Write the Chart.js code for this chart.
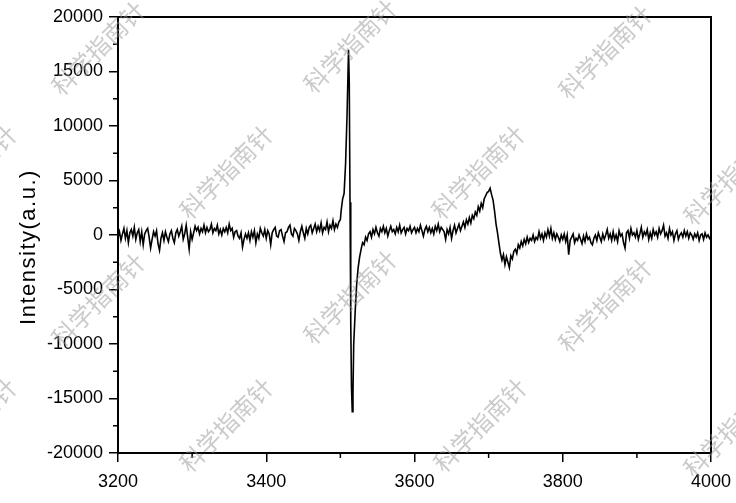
<!DOCTYPE html>
<html lang="en">
<head>
  <meta charset="UTF-8" />
  <title>EPR Spectrum</title>
  <script src="https://cdn.jsdelivr.net/npm/chart.js"></script>
  <style>
    html, body { margin: 0; padding: 0; background: #fff; }
    #wrap { width: 736px; height: 503px; }
  </style>
</head>
<body>
  <div id="wrap"><canvas id="epr" width="736" height="503"></canvas></div>

  <script>
    // magnetic field (G) and intensity (a.u.)
    const field = [
      3200, 3202, 3204, 3206, 3208, 3210, 3212, 3214, 3216, 3218,
      3220, 3222, 3224, 3226, 3228, 3230, 3232, 3234, 3236, 3238,
      3240, 3242, 3244, 3246, 3248, 3250, 3252, 3254, 3256, 3258,
      3260, 3262, 3264, 3266, 3268, 3270, 3272, 3274, 3276, 3278,
      3280, 3282, 3284, 3286, 3288, 3290, 3292, 3294, 3296, 3298,
      3300, 3302, 3304, 3306, 3308, 3310, 3312, 3314, 3316, 3318,
      3320, 3322, 3324, 3326, 3328, 3330, 3332, 3334, 3336, 3338,
      3340, 3342, 3344, 3346, 3348, 3350, 3352, 3354, 3356, 3358,
      3360, 3362, 3364, 3366, 3368, 3370, 3372, 3374, 3376, 3378,
      3380, 3382, 3384, 3386, 3388, 3390, 3392, 3394, 3396, 3398,
      3400, 3402, 3404, 3406, 3408, 3410, 3412, 3414, 3416, 3418,
      3420, 3422, 3424, 3426, 3428, 3430, 3432, 3434, 3436, 3438,
      3440, 3442, 3444, 3446, 3448, 3450, 3452, 3454, 3456, 3458,
      3460, 3462, 3464, 3466, 3468, 3470, 3472, 3474, 3476, 3478,
      3480, 3482, 3484, 3486, 3488, 3490, 3492, 3494, 3496, 3498,
      3500, 3501, 3503, 3505, 3507, 3509, 3511, 3512, 3513, 3514,
      3515, 3516, 3517, 3518, 3520, 3522, 3524, 3526, 3528, 3530,
      3532, 3534, 3536, 3538,
      3540, 3542, 3544, 3546, 3548, 3550, 3552, 3554, 3556, 3558,
      3560, 3562, 3564, 3566, 3568, 3570, 3572, 3574, 3576, 3578,
      3580, 3582, 3584, 3586, 3588, 3590, 3592, 3594, 3596, 3598,
      3600, 3602, 3604, 3606, 3608, 3610, 3612, 3614, 3616, 3618,
      3620, 3622, 3624, 3626, 3628, 3630, 3632, 3634, 3636, 3638,
      3640, 3642, 3644, 3646, 3648, 3650, 3652, 3654, 3656, 3658,
      3660, 3662, 3664, 3666, 3668, 3670, 3672, 3674, 3676, 3678,
      3680, 3682, 3684, 3686, 3688, 3690, 3692, 3694, 3696, 3698,
      3700, 3702, 3704, 3706, 3708, 3710, 3712, 3714, 3716, 3718,
      3720, 3722, 3724, 3726, 3728, 3730, 3732, 3734, 3736, 3738,
      3740, 3742, 3744, 3746, 3748, 3750, 3752, 3754, 3756, 3758,
      3760, 3762, 3764, 3766, 3768, 3770, 3772, 3774, 3776, 3778,
      3780, 3782, 3784, 3786, 3788, 3790, 3792, 3794, 3796, 3798,
      3800, 3802, 3804, 3806, 3808, 3810, 3812, 3814, 3816, 3818,
      3820, 3822, 3824, 3826, 3828, 3830, 3832, 3834, 3836, 3838,
      3840, 3842, 3844, 3846, 3848, 3850, 3852, 3854, 3856, 3858,
      3860, 3862, 3864, 3866, 3868, 3870, 3872, 3874, 3876, 3878,
      3880, 3882, 3884, 3886, 3888, 3890, 3892, 3894, 3896, 3898,
      3900, 3902, 3904, 3906, 3908, 3910, 3912, 3914, 3916, 3918,
      3920, 3922, 3924, 3926, 3928, 3930, 3932, 3934, 3936, 3938,
      3940, 3942, 3944, 3946, 3948, 3950, 3952, 3954, 3956, 3958,
      3960, 3962, 3964, 3966, 3968, 3970, 3972, 3974, 3976, 3978,
      3980, 3982, 3984, 3986, 3988, 3990, 3992, 3994, 3996, 3998,
      4000
    ];
    const intensity = [
      -200, 300, -500, 100, 600, -300, 400, -700, 200, 500,
      -100, 700, -400, 200, 500, -600, 300, -900, 100, 400,
      600, -200, -1200, -400, 300, -100, 400, -800, -1400, -300,
      200, -500, 300, -200, -600, 100, 400, -300, -700, 200,
      500, -100, 300, 800, -400, 100, 900, -200, -1300, 300,
      -400, 200, 800, 400, 700, 100, 600, 300, 900, 200,
      700, 300, 500, 1000, 200, 600, 400, 900, 100, 500,
      0, 600, 300, 700, 200, 1000, 400, 600, -200, 300,
      400, -100, -300, 200, -1100, -400, 100, -300, 200, -500,
      300, -200, 400, -700, 100, -300, 600, 200, -100, 500,
      -300, 400, 100, -900, 200, 500, 700, -100, -200, 400,
      500, -100, -600, 200, 300, 700, 900, 100, -100, 600,
      400, 100, -500, 300, 800, 200, -300, 600, 100, 700,
      900, 200, 600, 1000, 300, 800, 400, 1100, 200, 700,
      500, 1200, 300, 900, 600, 1300, 500, 1000, 700, 1200,
      1400, 2200, 3300, 3800, 6500, 11000, 17000, 14000, 3000, -8000,
      -14000, -16200, -14500, -10000, -7000, -4500, -3000, -2000, -1300, -700,
      -900, -200, -500, 100,
      300, -200, 500, 100, 700, 200, -100, 600, 300, 800,
      200, 600, -100, 400, 800, 300, 500, 100, 700, 300,
      900, 200, 500, 700, 100, 600, 400, 800, 200, 500,
      700, 200, 600, 300, 900, 400, -100, 500, 800, 300,
      700, 200, 600, 100, 800, 400, 1000, 300, 700, 500,
      300, -400, 500, 100, 700, -300, 400, 900, 200, 600,
      1000, 400, 800, 1200, 700, 1400, 1000, 1600, 1100, 1800,
      1500, 2100, 1800, 2600, 2200, 2900, 2500, 3300, 3600, 3900,
      4000, 4300, 3700, 3200, 2200, 1000, 200, -800, -1700, -2300,
      -1800, -2700, -2000, -2500, -3000, -1900, -2200, -1500, -1300, -1700,
      -900, -1200, -600, -1000, -400, -800, -200, -700, -300, -500,
      0, -600, -200, -400, 300, -300, 100, -500, 200, -200,
      500, -100, 600, -300, 200, -400, 100, -200, -600, 0,
      -400, 100, -600, 0, -1800, -500, -200, 100, -700, -300,
      -500, 0, -400, -800, -100, -600, 100, -400, -200, -700,
      -900, -300, 0, -500, 200, -200, -600, 100, -400, 0,
      500, -300, 100, -500, 300, -400, 0, -600, 400, -100,
      100, -700, -1200, 200, 400, -300, 600, 0, 200, -200,
      400, -400, 100, 700, -200, 300, 0, 500, -400, 200,
      -300, 500, 0, 300, -200, 600, 100, 400, 900, -100,
      200, -300, 600, 0, 300, -500, 100, 400, -400, 0,
      200, -200, 400, -100, 300, -300, 200, 0, -400, 100,
      -200, 200, -500, 0, 100, -400, 200, -200, 0, -300,
      -100
    ];
    const xTicks = [3200, 3400, 3600, 3800, 4000];
    const yTicks = [-20000, -15000, -10000, -5000, 0, 5000, 10000, 15000, 20000];
    const yTitle = 'Intensity(a.u.)';
    const watermark = '科学指南针';

    const points = field.map((f, i) => ({ x: f, y: intensity[i] }));

    // box, minor ticks, axis title, watermark
    const framePlugin = {
      id: 'frame',
      afterDraw(chart) {
        const { ctx, chartArea: a, scales } = chart;
        ctx.save();
        ctx.strokeStyle = '#000';
        ctx.lineWidth = 2;
        ctx.strokeRect(a.left, a.top, a.right - a.left, a.bottom - a.top);

        ctx.lineWidth = 1.5;
        ctx.beginPath();
        for (let v = 3300; v < 4000; v += 200) {
          const px = scales.x.getPixelForValue(v);
          ctx.moveTo(px, a.bottom);
          ctx.lineTo(px, a.bottom + 5);
        }
        for (let v = -17500; v < 20000; v += 5000) {
          const py = scales.y.getPixelForValue(v);
          ctx.moveTo(a.left, py);
          ctx.lineTo(a.left - 5, py);
        }
        ctx.stroke();

        // y title, a bit wider spaced like the original
        ctx.save();
        ctx.translate(29, 247);
        ctx.rotate(-Math.PI / 2);
        ctx.font = '22px "Liberation Sans", Arial';
        ctx.letterSpacing = '1.5px';
        ctx.fillStyle = '#000';
        ctx.textAlign = 'center';
        ctx.textBaseline = 'middle';
        ctx.fillText(yTitle, 0, 0);
        ctx.restore();

        ctx.font = '24px "Noto Sans CJK SC"';
        ctx.fillStyle = 'rgba(150,150,150,0.5)';
        ctx.textAlign = 'center';
        ctx.textBaseline = 'middle';
        const spots = [
          [98, 48], [350, 46], [605, 52],
          [-30, 172], [226, 172], [478, 172], [730, 178],
          [98, 300], [350, 297], [605, 305],
          [-30, 425], [226, 425], [480, 425], [730, 430]
        ];
        spots.forEach(([x, y]) => {
          ctx.save();
          ctx.translate(x, y);
          ctx.rotate(-Math.PI / 4);
          ctx.fillText(watermark, 0, 0);
          ctx.restore();
        });
        ctx.restore();
      }
    };

    new Chart(document.getElementById('epr'), {
      type: 'line',
      data: {
        datasets: [{
          data: points,
          borderColor: '#000',
          borderWidth: 1.6,
          pointRadius: 0,
          tension: 0,
          fill: false
        }]
      },
      options: {
        responsive: false,
        animation: false,
        layout: { padding: { top: 17, right: 25, left: 0, bottom: 0 } },
        plugins: { legend: { display: false }, tooltip: { enabled: false } },
        scales: {
          x: {
            type: 'linear',
            min: 3200,
            max: 4000,
            afterFit: s => { s.height = 50; s.paddingLeft = 0; s.paddingRight = 0; },
            afterBuildTicks: s => { s.ticks = xTicks.map(v => ({ value: v })); },
            grid: { drawOnChartArea: false, drawTicks: true, tickLength: 9, color: '#000', lineWidth: 1.5 },
            border: { display: true, color: '#000', width: 2 },
            ticks: {
              color: '#000',
              padding: 9,
              maxRotation: 0,
              callback: v => String(v),
              font: { family: '"Liberation Sans", Arial', size: 18 }
            }
          },
          y: {
            min: -20000,
            max: 20000,
            afterFit: s => { s.width = 118; s.paddingTop = 0; s.paddingBottom = 0; },
            afterBuildTicks: s => { s.ticks = yTicks.map(v => ({ value: v })); },
            grid: { drawOnChartArea: false, drawTicks: true, tickLength: 9, color: '#000', lineWidth: 1.5 },
            border: { display: true, color: '#000', width: 2 },
            ticks: {
              color: '#000',
              padding: 6,
              callback: v => String(v),
              font: { family: '"Liberation Sans", Arial', size: 18 }
            }
          }
        }
      },
      plugins: [framePlugin]
    });
  </script>
</body>
</html>
